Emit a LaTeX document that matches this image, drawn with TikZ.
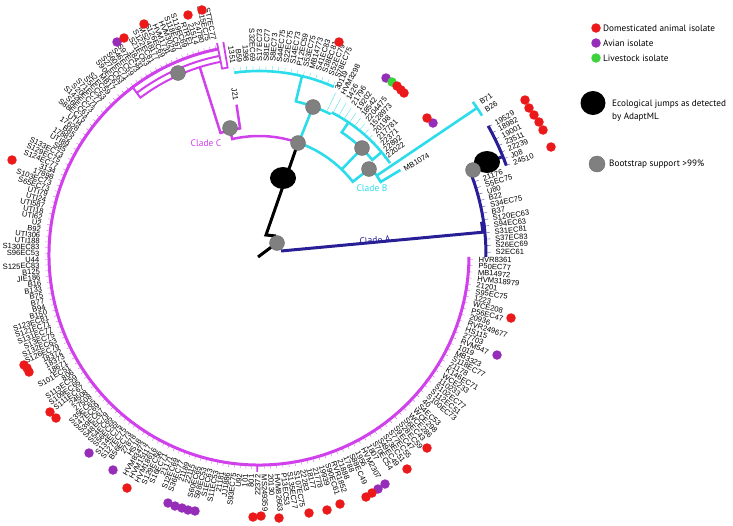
\documentclass[tikz,border=0pt]{standalone}
\usepackage{fontspec}
\setmainfont{Liberation Sans}
\newfontfamily\legfont{PT Sans}
\usetikzlibrary{shapes.geometric}
\definecolor{cmag}{RGB}{208,64,235}
\definecolor{ccyan}{RGB}{45,220,235}
\definecolor{cblue}{RGB}{40,30,150}
\definecolor{cred}{RGB}{235,25,25}
\definecolor{cpurp}{RGB}{150,45,185}
\definecolor{cgreen}{RGB}{60,210,60}
\definecolor{cgray}{RGB}{128,128,128}
\begin{document}
\begin{tikzpicture}[x=1pt,y=1pt,
  leaf/.style={font=\fontsize{7.6}{7.6}\selectfont, inner sep=0.5pt},
  legtext/.style={font=\legfont\fontsize{9.2}{13}\selectfont, anchor=west, inner sep=0pt, align=left},
  cladelab/.style={font=\legfont\fontsize{9.5}{10}\selectfont, inner sep=0pt},
  boot/.style={circle, fill=cgray, draw=cgray!75!black, line width=0.3pt, minimum size=15pt, inner sep=0pt},
  jump/.style={ellipse, fill=black, minimum width=26pt, minimum height=22pt, inner sep=0pt},
  reddot/.style={circle, fill=cred, minimum size=9.5pt, inner sep=0pt},
  purpdot/.style={circle, fill=cpurp, minimum size=9.5pt, inner sep=0pt},
  greendot/.style={circle, fill=cgreen, minimum size=9.5pt, inner sep=0pt},
  magb/.style={cmag, line width=3pt},
  cyb/.style={ccyan, line width=2.6pt},
  blb/.style={cblue, line width=3pt},
  tick/.style={line width=0.3pt},
]
\useasboundingbox (0,-525) rectangle (733,0);

\begin{scope}[shift={(259,-255)}]
% ---------- Clade C structure
\draw[magb] (101.2:210) arc[start angle=101.2,end angle=359.5,radius=210];
\draw[magb,line width=1.6pt] (269.5:210) -- (269.5:217);
\draw[magb,line width=2.5pt] (71:119) arc[start angle=71,end angle=103,radius=119] -- (103:130);
\draw[magb,line width=2.5pt] (98.5:152) -- (98.5:128) arc[start angle=98.5,end angle=107.5,radius=128] -- (107.5:197);
\draw[magb,line width=2pt] (101.2:197) arc[start angle=101.2,end angle=127,radius=197] -- (127:210);
\draw[magb,line width=2pt] (101.2:203) arc[start angle=101.2,end angle=127,radius=203];
\draw[magb,line width=1.8pt] (99.5:216) -- (99.5:190) arc[start angle=99.5,end angle=101.2,radius=190] -- (101.2:216);
% ---------- Clade B structure
\draw[cyb] (71:119) arc[start angle=71,end angle=38,radius=119] -- (38:140);
\draw[cyb] (46:119) -- (46:148);
\draw[cyb] (40:160) -- (40:148) arc[start angle=40,end angle=56,radius=148] -- (56:160);
\draw[cyb] (35:160) arc[start angle=35,end angle=63,radius=160];
\draw[cyb] (70.5:121) -- (70:157.5);
\draw[cyb] (63:158) arc[start angle=63,end angle=76.5,radius=158] -- (76.5:184);
\draw[cyb] (66:184) arc[start angle=66,end angle=97.7,radius=184];
\draw[cyb] (31:165) -- (31:142) arc[start angle=31,end angle=38,radius=142];
\draw[cyb] (34:142) -- (34:263);
\draw[cyb] (32:263) arc[start angle=32,end angle=35.6,radius=263];
% ---------- Clade A structure
\draw[blb] (-0.5:227) arc[start angle=-0.5,end angle=22,radius=227];
\draw[blb,line width=5pt] (6:226) arc[start angle=6,end angle=8.5,radius=226];
\draw[blb] (22:227) -- (22:263);
\draw[blb] (19.9:263) arc[start angle=19.9,end angle=29.4,radius=263];

% ---------- Clade C leaves
\foreach \lab [count=\i] in {HVR8361,P50EC77,MB14972,HVM318979,21201,S95EC75,1223,WCE208,P56EC47,20936,
RVR249677,HS115,27703,RVM547,1019,MB3323,S118EC77,21178,K146EC71,WCE233,
110233,S102EC77,S112EC51,S100EC73,40,S4EC53,WCE298,WCE286,S6EC43,S28EC59,
S9EC47,S77EC55,S23EC51,S49EC49,S70EC54,1807,HVM2307,1956,S88EC49,1788,
21888,RVR1852,S90EC61,19939,21778,18177,22283,S107EC75,S135EC77,P13EC53,
HVM82663,20130,MS249359,22372,801,101,U92,S93EC75,JJ1886,21181,
S11EC53,S1EC63,S98EC53,S60EC65,22115,21189,S36EC77,S12EC69,21171,S16EC71,
S129EC56,HVM18616,HVM15117,HVM83473,HS18,27878,B56EC73,S127EC75,S134EC75,S56EC55,
S54EC65,S48EC79,S39EC67,S47EC69,S35EC65,27508,24508,S111EC67,S109EC65,S113EC59,
806,S101EC51,18671,18373,18372,S126EC79,S132EC63,S13EC75,S131EC77,S121EC71,
S123EC81,B150,B94,B77,B75,B133,B16,JIE186,B125,S125EC83,
U44,S96EC53,S130EC83,UTI188,UTI306,B92,U2,UTI62,UTI18,UTI587,
UTI24,UTI79,S65EC73,S103EC73,17898,3134,S124EC77,S129EC75,S133EC73,S85,
UTI89,17882,B85,17628,UTI4,S88EC75,S6EC61,S142EC73,S20EC71,S71EC77,
S5EC53,S2EC59,MB17,S90EC67,S27EC63,S60EC71,S46EC59,S97EC73,18431,S21EC63,
S122EC81,MS248177,S126EC69,HVM1731,HVM3029,S118EC67,S119EC69,RTRE1,21514,24780,
S115EC75,ST7EC77}{
  \pgfmathsetmacro\ang{-1.2-1.681*min(\i-1,54)-1.551*min(max(\i-55,0),49)-1.555*max(\i-104,0)}
  \pgfmathsetmacro\cosang{cos(\ang)}
  \pgfmathsetmacro\flip{\ang+180}
  \draw[cmag,tick] (\ang:210) -- (\ang:214);
  \ifdim\cosang pt>0pt
    \node[leaf,anchor=west,rotate=\ang] (c\i) at (\ang:219) {\lab};
  \else
    \node[leaf,anchor=east,rotate=\flip] (c\i) at (\ang:219) {\lab};
  \fi
}
% ---------- Clade B leaves, top group
\foreach \lab [count=\i] in {1351,B59,1398,S32EC69,S17EC73,S81EC77,S8EC73,S44EC75,S22EC75,S14EC73,P12EC59,S53EC75,MB14773,S41EC83,S38EC81,S52EC79,S78EC75}{
  \pgfmathsetmacro\ang{97.7-(\i-1)*1.9625}
  \pgfmathsetmacro\cosang{cos(\ang)}
  \pgfmathsetmacro\flip{\ang+180}
  \draw[ccyan,tick] (\ang:184) -- (\ang:189);
  \ifdim\cosang pt>0pt
    \node[leaf,anchor=west,rotate=\ang] (bt\i) at (\ang:193) {\lab};
  \else
    \node[leaf,anchor=east,rotate=\flip] (bt\i) at (\ang:193) {\lab};
  \fi
}
% ---------- Clade B leaves, second group
\foreach \lab [count=\i] in {30119,HVM3298,1426,21796,19202,18542,2204475,1528973,20198,217781,22371,22892,22022}{
  \pgfmathsetmacro\ang{64.7-(\i-1)*2.258}
  \pgfmathsetmacro\rr{182-(\i-1)*1.75}
  \pgfmathsetmacro\rt{\rr-3}
  \draw[ccyan,tick] (\ang:160) -- (\ang:\rt);
  \node[leaf,anchor=west,rotate=\ang] (bs\i) at (\ang:\rr) {\lab};
}
\node[leaf,anchor=west,rotate=30.5] (mb1074) at (30.5:168) {MB1074};
\node[leaf,anchor=west,rotate=34.5] (b71) at (34.5:268) {B71};
\node[leaf,anchor=west,rotate=32.6] (b26) at (32.6:268) {B26};
\node[leaf,anchor=east,rotate=-81.5] (j21) at (98.5:156) {J21};
% ---------- Clade A leaves
\foreach \lab [count=\i] in {19529,18982,19001,23511,22239,J08,24510}{
  \pgfmathsetmacro\ang{29.2-(\i-1)*1.55}
  \draw[cblue,tick] (\ang:263) -- (\ang:267);
  \node[leaf,anchor=west,rotate=\ang] (au\i) at (\ang:270) {\lab};
}
\foreach \lab [count=\i] in {21176,S5EC75,U80,B22,S34EC75,B37,S120EC63,S94EC63,S31EC81,S37EC83,S26EC69,S2EC61}{
  \pgfmathsetmacro\ang{18.8-(\i-1)*1.645}
  \draw[cblue,tick] (\ang:227) -- (\ang:232);
  \node[leaf,anchor=west,rotate=\ang] (al\i) at (\ang:236) {\lab};
}
\end{scope}

% ---------- root and stems
\draw[black,line width=3pt] (298,-143) -- (266,-235) -- (276,-236);
\draw[black,line width=3pt] (258,-257) -- (274,-245);
\draw[blb] (281,-251) -- (485,-232);

% ---------- ecological jumps and bootstrap nodes
\node[jump] (j1) at (283,-178) {};
\node[jump] (j2) at (487,-162) {};
\node[boot] (g0) at (277,-243) {};
\node[boot] (n1) at (298,-143) {};
\node[boot] (g2) at (230,-128) {};
\node[boot] (g1) at (178,-73) {};
\node[boot] (g5) at (313,-107) {};
\node[boot] (g6) at (362,-148) {};
\node[boot] (g7) at (369,-169) {};
\node[boot] (g8) at (473,-170) {};

% ---------- clade labels
\node[cladelab,text=cmag] (labC) at (206,-143) {Clade C};
\node[cladelab,text=ccyan] (labB) at (372,-188) {Clade B};
\node[cladelab,text=cblue,rotate=4] (labA) at (375,-240) {Clade A};

% ---------- isolate dots
\foreach \x/\y [count=\k] in {117/42,386/78,433/123,497/355,385/484,378/489,168/503,175/506,182/508,188/510,195/511,113/470,89/453}
  \node[purpdot] (pd\k) at (\x,-\y) {};
\node[greendot] (gd1) at (392,-82) {};
\foreach \x/\y [count=\k] in {202/10,188/15,144/24,124/38,12/160,339/42,397/86,401/90,404/93,427/118,525/100,529/108,534/115,539/122,543/130,551/147,511/318,427/448,407/469,372/493,366/497,340/504,327/510,309/513,279/518,261/516,253/517,127/488,50/412,56/418,24/365,27/368,29/372}
  \node[reddot] (rd\k) at (\x,-\y) {};

% ---------- legend
\node[reddot] (lr) at (596,-28) {};
\node[legtext] (lrt) at (603,-28) {Domesticated animal isolate};
\node[purpdot] (lp) at (596,-43) {};
\node[legtext] (lpt) at (603,-43) {Avian isolate};
\node[greendot] (lg) at (596,-58) {};
\node[legtext] (lgt) at (603,-58) {Livestock isolate};
\node[jump,minimum width=25pt,minimum height=24pt] (lj) at (593,-103) {};
\node[legtext] (ljt) at (612,-110.5) {Ecological jumps as detected\\by AdaptML};
\node[boot,minimum size=16pt] (lb) at (597,-164) {};
\node[legtext] (lbt) at (609,-164) {Bootstrap support >99\%};
\end{tikzpicture}
\end{document}
